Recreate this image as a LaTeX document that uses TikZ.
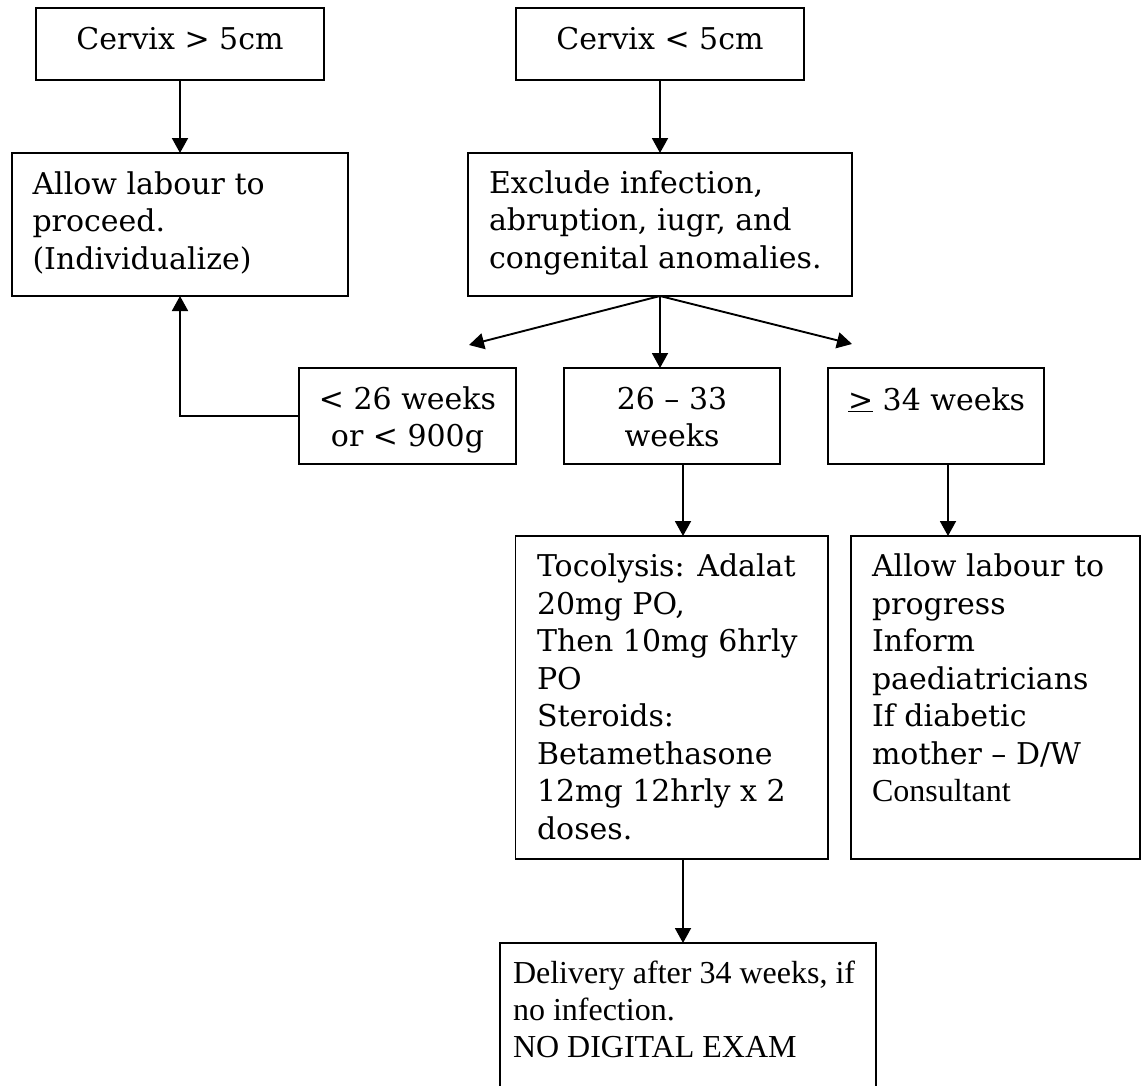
\documentclass[tikz,border=0pt]{standalone}
\usepackage{fontspec}
\setmainfont{DejaVu Serif}
\newfontfamily\timesface{Liberation Serif}
\usetikzlibrary{arrows.meta}
% stacked lines whose baseline is the first line's baseline
\newcommand\leftlines[1]{\vtop{\halign{##\hfil\cr#1\crcr}}}
\newcommand\centrelines[1]{\vtop{\halign{\hfil##\hfil\cr#1\crcr}}}
\tikzset{
  box/.style={draw, line width=1.9pt, rectangle, inner sep=0pt, outer sep=0pt, anchor=north west},
  txt/.style={inner sep=0pt, outer sep=0pt, font=\fontsize{30}{37.5}\selectfont},
  tnrtxt/.style={inner sep=0pt, outer sep=0pt, font=\timesface\fontsize{32}{37}\selectfont},
  arr/.style={line width=1.9pt, -{Triangle[length=15pt,width=16pt]}},
}
\begin{document}
\begin{tikzpicture}[x=1pt,y=-1pt]
\path[use as bounding box] (0,0) rectangle (1141,1085);
\clip (0,0) rectangle (1141,1085);
\fill[white] (0,0) rectangle (1141,1085);

% boxes
\node[box, minimum width=288pt, minimum height=72pt]  (big)   at (36,8) {};
\node[box, minimum width=336pt, minimum height=143pt] (allow) at (12,153) {};
\node[box, minimum width=288pt, minimum height=72pt]  (small) at (516,8) {};
\node[box, minimum width=384pt, minimum height=143pt] (excl)  at (468,153) {};
\node[box, minimum width=217pt, minimum height=96pt]  (early) at (299,368) {};
\node[box, minimum width=216pt, minimum height=96pt]  (mid)   at (564,368) {};
\node[box, minimum width=216pt, minimum height=96pt]  (late)  at (828,368) {};
\node[box, minimum width=312.5pt, minimum height=323pt] (toco) at (515.5,536) {};
\node[box, minimum width=289pt, minimum height=323pt] (prog)  at (851,536) {};
\node[box, minimum width=376pt, minimum height=160pt] (deliv) at (500,943) {};

% texts
\node[txt, anchor=base] (big-t) at (180,49) {Cervix > 5cm};
\node[txt, anchor=base] (small-t) at (660,49) {Cervix < 5cm};
\node[txt, anchor=base west] (allow-t) at (32.5,194)
  {\leftlines{Allow labour to\cr proceed.\cr (Individualize)}};
\node[txt, anchor=base west] (excl-t) at (489,193)
  {\leftlines{Exclude infection,\cr abruption, iugr, and\cr congenital anomalies.}};
\node[txt, anchor=base] (early-t) at (407.5,409)
  {\centrelines{< 26 weeks\cr or < 900g}};
\node[txt, anchor=base] (mid-t) at (672,409)
  {\centrelines{26 – 33\cr weeks}};
\node[txt, anchor=base west] (late-t) at (848,410) {\underline{>} 34 weeks};
\node[txt, anchor=base west] (toco-t) at (537,576.5)
  {\leftlines{Tocolysis: Adalat\cr 20mg PO,\cr Then 10mg 6hrly\cr PO\cr Steroids:\cr
   Betamethasone\cr 12mg 12hrly x 2\cr doses.}};
\node[txt, anchor=base west] (prog-t) at (872,576.5)
  {\leftlines{Allow labour to\cr progress\cr Inform\cr paediatricians\cr If diabetic\cr
   mother – D/W\cr {\timesface\fontsize{32}{37}\selectfont Consultant}}};
\node[tnrtxt, anchor=base west] (deliv-t) at (513,983)
  {\leftlines{Delivery after 34 weeks, if\cr no infection.\cr NO DIGITAL EXAM}};

% connectors
\coordinate (lefttip)  at (469,345);
\coordinate (righttip) at (852,344);
\coordinate (colA) at (683,0);
\coordinate (colB) at (948,0);

\draw[arr] (big.south) -- (allow.north);
\draw[arr] (small.south) -- (excl.north);
\draw[arr] (excl.south) -- (lefttip);
\draw[arr] (excl.south) -- (righttip);
\draw[arr] (excl.south) -- (excl.south |- mid.north);
\draw[arr] (early.west) -| (allow.south);
\draw[arr] (mid.south -| colA) -- (toco.north -| colA);
\draw[arr] (late.south -| colB) -- (prog.north -| colB);
\draw[arr] (toco.south -| colA) -- (deliv.north -| colA);
\end{tikzpicture}
\end{document}
